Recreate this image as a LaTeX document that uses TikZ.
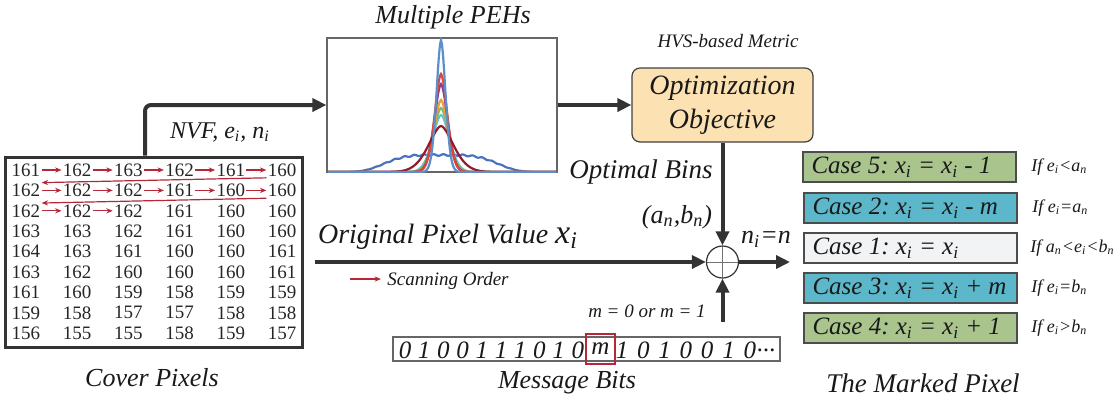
\documentclass[tikz,border=0pt]{standalone}
\usepackage{tikz}
\usepackage{amsmath}
\usepackage{fontspec}
\setmainfont{Liberation Serif}
\usetikzlibrary{arrows.meta}

\definecolor{darkline}{HTML}{333333}
\definecolor{scanred}{HTML}{B5283A}
\definecolor{optfill}{HTML}{FCE1B3}
\definecolor{casegreen}{HTML}{A9C48C}
\definecolor{caseteal}{HTML}{5DB7CA}
\definecolor{caselight}{HTML}{F2F3F5}
\definecolor{pehspike}{HTML}{5B8FC9}
\definecolor{pehbroad}{HTML}{4A72C2}
\definecolor{pehred}{HTML}{D9473F}
\definecolor{pehpurple}{HTML}{8E3C8E}
\definecolor{pehorange}{HTML}{E9A23B}
\definecolor{pehgreen}{HTML}{7DBB6E}
\definecolor{pehcyan}{HTML}{62C6D8}
\definecolor{pehmaroon}{HTML}{8F1D2E}

\newcommand{\subtxt}[2]{#1\textsubscript{#2}}
\newcommand{\casetxt}[1]{\makebox[98pt][l]{#1}}
\frenchspacing

\begin{document}
\begin{tikzpicture}[x=0.5pt,y=-0.5pt]

\tikzset{num/.style      = {inner sep=0.5pt, font=\fontsize{9.5}{10}\selectfont, text=black!85},
         scan/.style     = {draw=scanred, line width=0.6pt, -{Stealth[length=3.2pt,width=2.6pt]}},
         flow/.style     = {draw=darkline, line width=2pt, -{Triangle[length=7pt,width=6.5pt]}},
         label/.style    = {inner sep=0pt, font=\fontsize{13}{15}\selectfont\itshape, text=black!90},
         small/.style    = {inner sep=0pt, font=\fontsize{9.5}{11}\selectfont\itshape, text=black!90},
         casebox/.style  = {draw=black!70, line width=0.6pt, minimum width=106.5pt, minimum height=15pt,
                            inner xsep=4.25pt, inner ysep=0pt,
                            font=\fontsize{12.5}{14}\selectfont\itshape, text=black!90},
         cond/.style     = {anchor=west, inner sep=0pt, font=\fontsize{9}{10}\selectfont\itshape, text=black!90},
         bit/.style      = {inner sep=0pt, font=\fontsize{12.5}{14}\selectfont\itshape, text=black!90},
         curve/.style    = {line width=1.1pt, samples=229, domain=-113:115}}

\useasboundingbox (0,0) rectangle (1120,404);

\node[draw=darkline, line width=1.5pt, minimum width=148.5pt, minimum height=95pt, inner sep=0pt] (cover) at (153.5,252) {};
\node[label] (coverlbl) at (152,378) {Cover Pixels};

\foreach \v [count=\c] in {161,162,163,162,161,160} \node[num] (p-1-\c) at ({26+51.2*(\c-1)},170.0) {\v};
\foreach \v [count=\c] in {162,162,162,161,160,160} \node[num] (p-2-\c) at ({26+51.2*(\c-1)},190.4) {\v};
\foreach \v [count=\c] in {162,162,162,161,160,160} \node[num] (p-3-\c) at ({26+51.2*(\c-1)},210.8) {\v};
\foreach \v [count=\c] in {163,163,162,161,160,160} \node[num] (p-4-\c) at ({26+51.2*(\c-1)},231.2) {\v};
\foreach \v [count=\c] in {164,163,161,160,160,161} \node[num] (p-5-\c) at ({26+51.2*(\c-1)},251.6) {\v};
\foreach \v [count=\c] in {163,162,160,160,160,161} \node[num] (p-6-\c) at ({26+51.2*(\c-1)},272.0) {\v};
\foreach \v [count=\c] in {161,160,159,158,159,159} \node[num] (p-7-\c) at ({26+51.2*(\c-1)},292.4) {\v};
\foreach \v [count=\c] in {159,158,157,157,158,158} \node[num] (p-8-\c) at ({26+51.2*(\c-1)},312.8) {\v};
\foreach \v [count=\c] in {156,155,155,158,159,157} \node[num] (p-9-\c) at ({26+51.2*(\c-1)},333.2) {\v};

\foreach \c [evaluate=\c as \n using int(\c+1)] in {1,...,5} {
  \draw[scan] (p-1-\c) -- (p-1-\n);
  \draw[scan] (p-2-\c) -- (p-2-\n);
}
\draw[scan] (p-3-1) -- (p-3-2);
\draw[scan] (p-3-2) -- (p-3-3);
\draw[scan] (p-1-6.south west) -- (p-2-1.north east);
\draw[scan] (p-2-6.south west) -- (p-3-1.north east);

\node[draw=black!60, line width=0.6pt, minimum width=115pt, minimum height=67pt, inner sep=0pt] (peh) at (442,105) {};
\node[label] (pehlbl) at (453,17) {Multiple PEHs};

\begin{scope}
\clip (peh.south west) rectangle (peh.north east);
\draw[curve, pehbroad]  plot (441+\x, {172-17*exp(max(-9,-(\x/62)^4))-0.8*sin(\x*37)*exp(max(-9,-(\x/62)^4))});
\draw[curve, pehcyan]   plot (441+\x, {172-57*exp(max(-9,-(abs(\x)/12)^1.8))});
\draw[curve, pehgreen]  plot (441+\x, {172-64*exp(max(-9,-(abs(\x)/11)^1.8))});
\draw[curve, pehorange] plot (441+\x, {172-72*exp(max(-9,-(abs(\x)/10)^1.8))});
\draw[curve, pehpurple] plot (441+\x, {172-88*exp(max(-9,-(abs(\x)/9.5)^1.8))});
\draw[curve, pehred]    plot (441+\x, {172-98*exp(max(-9,-(abs(\x)/9)^1.8))});
\draw[curve, pehmaroon] plot (441+\x, {172-46*exp(max(-9,-(abs(\x)/18)^1.7))});
\draw[curve, pehspike]  plot (441+\x, {172-132*exp(max(-9,-(abs(\x)/6.5)^1.8))});
\end{scope}

\draw[flow, rounded corners=3pt] ([xshift=-4.25pt]cover.north) |- (peh.west);
\node[label, font=\fontsize{12}{14}\selectfont\itshape] (nvf) at (220,132) {NVF, \subtxt{e}{i}, \subtxt{n}{i}};

\node[draw=black!75, line width=0.6pt, fill=optfill, rounded corners=4pt, minimum width=90.5pt, minimum height=37pt,
      align=center, font=\fontsize{14}{17}\selectfont\itshape, text=black!90] (opt) at (722.5,105) {Optimization\\Objective};
\node[small] (hvs) at (728,41) {HVS-based Metric};
\draw[flow] (peh.east) -- (opt.west);

\node[draw=darkline, circle, minimum size=16pt, inner sep=0pt, line width=0.6pt,
      path picture={\draw[black!55, line width=0.5pt] (path picture bounding box.north) -- (path picture bounding box.south)
                    (path picture bounding box.west) -- (path picture bounding box.east);}] (add) at (722.5,262) {};
\draw[flow] (opt) -- (add);
\node[label, font=\fontsize{13.5}{16}\selectfont\itshape] (bins) at (641,172) {Optimal Bins};
\node[label] (abn) at (677,217) {(\subtxt{a}{n},\subtxt{b}{n})};
\node[label] (nin) at (766,239) {\subtxt{n}{i}=\textit{n}};

\coordinate (orig) at (315,262);
\coordinate (outp) at (790,262);
\coordinate (mtop) at (722.5,322);
\draw[flow] (orig) -- (add);
\draw[flow] (add) -- (outp);
\draw[flow] (mtop) -- (add);
\node[label, font=\fontsize{14}{16}\selectfont\itshape] (origlbl) at (448,237) {Original Pixel Value {\fontsize{17}{17}\selectfont\subtxt{x}{i}}};
\node[small] (mval) at (647,311) {m = 0 or m = 1};

\coordinate (leg1) at (350,279);
\coordinate (leg2) at (381,279);
\draw[scan] (leg1) -- (leg2);
\node[small, anchor=west] (scanlbl) at (387,281) {Scanning Order};

\node[draw=black!60, line width=0.6pt, minimum width=193.5pt, minimum height=12pt, inner sep=0pt] (bits) at (586.5,349) {};
\foreach \b [count=\k] in {0,1,0,0,1,1,1,0,1,0} \node[bit] (b-\k) at ({405+19.2*(\k-1)},350) {\b};
\node[bit, draw=scanred, line width=0.8pt, minimum width=14.5pt, minimum height=15pt] (mbit) at (600.5,349) {m};
\foreach \b [count=\k] in {1,0,1,0,0,1,0} \node[bit] (r-\k) at ({622+21.3*(\k-1)},350) {\b};
\node[bit, anchor=west] (dots) at (757,350) {...};
\node[label] (bitslbl) at (567,383) {Message Bits};

\node[casebox, fill=casegreen] (case5) at (909.5,167) {\casetxt{Case 5: \subtxt{x}{i} = \subtxt{x}{i} - 1}};
\node[casebox, fill=caseteal]  (case2) at (910.5,208) {\casetxt{Case 2: \subtxt{x}{i} = \subtxt{x}{i} - m}};
\node[casebox, fill=caselight] (case1) at (910.5,248) {\casetxt{Case 1: \subtxt{x}{i} = \subtxt{x}{i}}};
\node[casebox, fill=caseteal]  (case3) at (910.5,288) {\casetxt{Case 3: \subtxt{x}{i} = \subtxt{x}{i} + m}};
\node[casebox, fill=casegreen] (case4) at (910.5,328) {\casetxt{Case 4: \subtxt{x}{i} = \subtxt{x}{i} + 1}};

\node[cond] (cond5) at (1031,167) {If \subtxt{e}{i}<\subtxt{a}{n}};
\node[cond] (cond2) at (1032,208) {If \subtxt{e}{i}=\subtxt{a}{n}};
\node[cond] (cond1) at (1030,248) {If \subtxt{a}{n}<\subtxt{e}{i}<\subtxt{b}{n}};
\node[cond] (cond3) at (1031,288) {If \subtxt{e}{i}=\subtxt{b}{n}};
\node[cond] (cond4) at (1031,328) {If \subtxt{e}{i}>\subtxt{b}{n}};
\node[label, font=\fontsize{13.5}{15}\selectfont\itshape] (marked) at (923,383) {The Marked Pixel};

\end{tikzpicture}
\end{document}
